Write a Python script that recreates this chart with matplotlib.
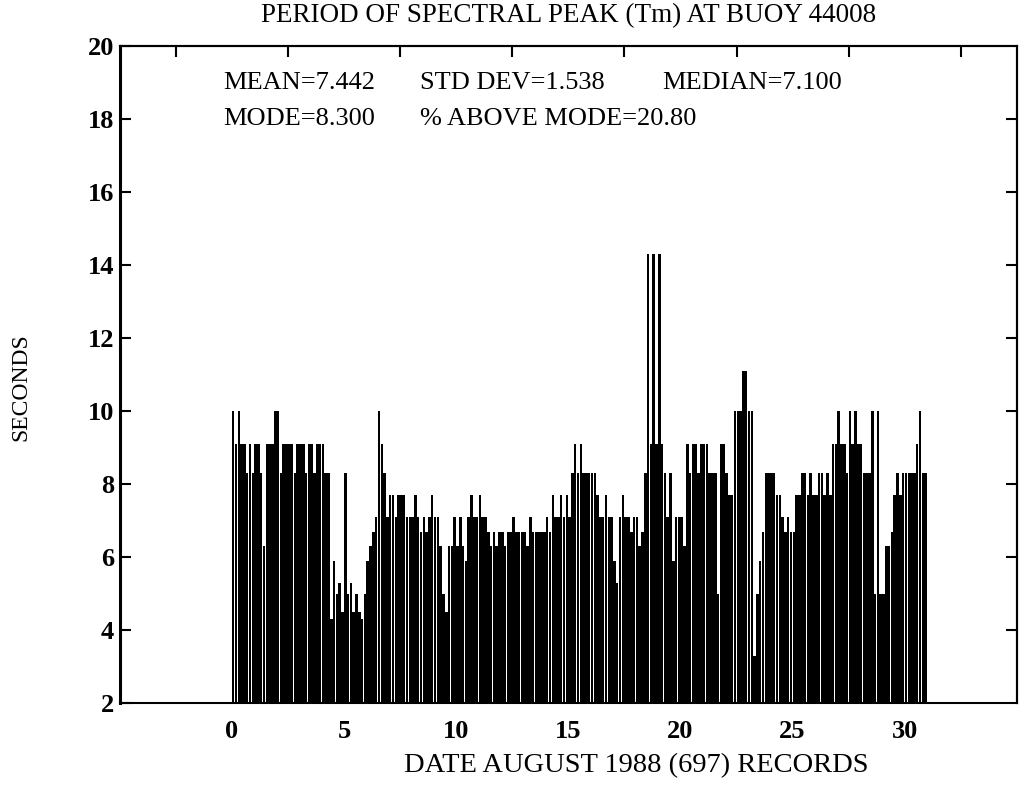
import numpy as np
import matplotlib.pyplot as plt

plt.rcParams['font.family'] = ['Liberation Serif', 'DejaVu Serif']

# peak period (s), 8 readings per day (3-hourly), days 0..30 of August 1988
day00 = [10, 9.1, 10, 9.1, 9.1, 8.3, 9.1, 8.3]
day01 = [9.1, 9.1, 8.3, 6.3, 9.1, 9.1, 9.1, 10]
day02 = [10, 8.3, 9.1, 9.1, 9.1, 9.1, 8.3, 9.1]
day03 = [9.1, 9.1, 8.3, 9.1, 9.1, 8.3, 9.1, 9.1]
day04 = [9.1, 8.3, 8.3, 4.3, 5.9, 5.0, 5.3, 4.5]
day05 = [8.3, 5.0, 5.3, 4.5, 5.0, 4.5, 4.3, 5.0]
day06 = [5.9, 6.3, 6.7, 7.1, 10, 9.1, 8.3, 7.1]
day07 = [7.7, 7.7, 7.1, 7.7, 7.7, 7.7, 7.1, 7.1]
day08 = [7.1, 7.7, 7.1, 6.7, 7.1, 6.7, 7.1, 7.7]
day09 = [7.1, 7.1, 6.3, 5.0, 4.5, 6.3, 6.3, 7.1]
day10 = [6.3, 7.1, 6.3, 5.9, 7.1, 7.7, 7.1, 7.1]
day11 = [7.7, 7.1, 7.1, 6.7, 6.3, 6.7, 6.3, 6.7]
day12 = [6.7, 6.3, 6.7, 6.7, 7.1, 6.7, 6.7, 6.7]
day13 = [6.7, 6.3, 7.1, 6.7, 6.7, 6.7, 6.7, 6.7]
day14 = [7.1, 6.7, 7.7, 7.1, 7.1, 7.7, 7.1, 7.7]
day15 = [7.1, 8.3, 9.1, 8.3, 9.1, 8.3, 8.3, 8.3]
day16 = [8.3, 8.3, 7.7, 7.1, 7.1, 7.7, 7.1, 7.1]
day17 = [5.9, 5.3, 7.1, 7.7, 7.1, 7.1, 6.7, 7.1]
day18 = [7.1, 6.3, 6.7, 8.3, 14.3, 9.1, 14.3, 9.1]
day19 = [14.3, 9.1, 8.3, 7.1, 8.3, 5.9, 7.1, 7.1]
day20 = [7.1, 6.3, 9.1, 8.3, 9.1, 9.1, 8.3, 9.1]
day21 = [9.1, 9.1, 8.3, 8.3, 8.3, 5.0, 9.1, 9.1]
day22 = [8.3, 7.7, 7.7, 10, 10, 10, 11.1, 11.1]
day23 = [10, 10, 3.3, 5.0, 5.9, 6.7, 8.3, 8.3]
day24 = [8.3, 8.3, 7.7, 7.7, 7.1, 6.7, 7.1, 6.7]
day25 = [6.7, 7.7, 7.7, 8.3, 8.3, 7.7, 8.3, 7.7]
day26 = [7.7, 8.3, 8.3, 7.7, 8.3, 7.7, 9.1, 9.1]
day27 = [10, 9.1, 9.1, 8.3, 10, 9.1, 10, 9.1]
day28 = [9.1, 8.3, 8.3, 8.3, 10, 5.0, 10, 5.0]
day29 = [5.0, 6.3, 6.3, 6.7, 7.7, 8.3, 7.7, 8.3]
day30 = [8.3, 8.3, 8.3, 8.3, 9.1, 10, 8.3, 8.3]

days = [day00, day01, day02, day03, day04, day05, day06, day07, day08, day09,
        day10, day11, day12, day13, day14, day15, day16, day17, day18, day19,
        day20, day21, day22, day23, day24, day25, day26, day27, day28, day29, day30]

stats_row1 = ['MEAN=7.442', 'STD DEV=1.538', 'MEDIAN=7.100']
stats_row2 = ['MODE=8.300', '% ABOVE MODE=20.80']

period = np.concatenate(days)
step = 1.0 / 8
t = np.arange(len(period)) * step

fig = plt.figure(figsize=(10.24, 7.98), dpi=100)
ax = fig.add_axes([0.117, 0.119, 0.876, 0.823])

ax.bar(t, period - 2, bottom=2, width=step * 0.9, align='edge', color='black', linewidth=0)

ax.set_xlim(-5, 35)
ax.set_ylim(2, 20)
ax.set_xticks(np.arange(0, 31, 5))
ax.set_yticks(np.arange(2, 21, 2))
ax.tick_params(axis='x', length=0, labelsize=19, pad=12)
ax.tick_params(axis='y', direction='in', length=8, width=1.5, labelsize=19, pad=4)
for lab in ax.get_xticklabels() + ax.get_yticklabels():
    lab.set_fontweight('bold')

# top and right tick marks without labels
top = ax.secondary_xaxis('top')
top.set_xticks(np.arange(-2.5, 33, 5))
top.tick_params(direction='in', length=8, width=1.5, labeltop=False)
right = ax.secondary_yaxis('right')
right.set_yticks(np.arange(4, 19, 2))
right.tick_params(direction='in', length=8, width=1.5, labelright=False)

for side in ['top', 'right', 'bottom']:
    ax.spines[side].set_linewidth(1.5)
ax.spines['left'].set_linewidth(2.2)
top.spines['top'].set_linewidth(1.5)
right.spines['right'].set_linewidth(1.5)

ax.text(-0.4, 19.0, stats_row1[0], fontsize=19, va='center')
ax.text(8.4, 19.0, stats_row1[1], fontsize=19, va='center')
ax.text(19.2, 19.0, stats_row1[2], fontsize=19, va='center')
ax.text(-0.4, 18.0, stats_row2[0], fontsize=19, va='center')
ax.text(8.4, 18.0, stats_row2[1], fontsize=19, va='center')

fig.text(0.555, 0.98, 'PERIOD OF SPECTRAL PEAK (Tm) AT BUOY 44008', fontsize=19.5,
         ha='center', va='center')
fig.text(0.621, 0.04, 'DATE AUGUST 1988 (697) RECORDS', fontsize=20.5, ha='center', va='center')
fig.text(0.02, 0.515, 'SECONDS', fontsize=17, rotation=90, ha='center', va='center')

fig.savefig('out.png', dpi=100)
